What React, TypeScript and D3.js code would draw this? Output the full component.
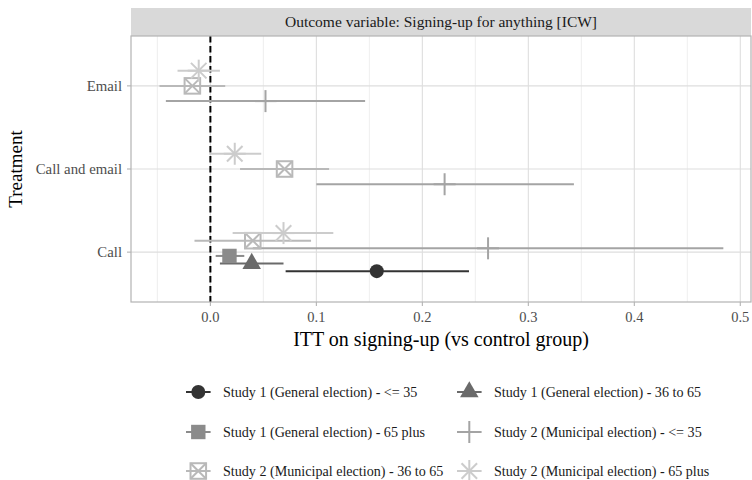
import React from "react";
import * as d3 from "d3";

const categories = ["Call", "Call and email", "Email"];
const groups = [
  "Study 1 (General election) - <= 35",
  "Study 1 (General election) - 36 to 65",
  "Study 1 (General election) - 65 plus",
  "Study 2 (Municipal election) - <= 35",
  "Study 2 (Municipal election) - 36 to 65",
  "Study 2 (Municipal election) - 65 plus",
];
const groupColors = ["#333333", "#6A6A6A", "#8B8B8B", "#A4A4A4", "#B9B9B9", "#CCCCCC"];
const groupShapes = ["circle", "triangle", "square", "plus", "boxx", "asterisk"];

// estimates / lower / upper per treatment, in group order (null = not estimated)
const estCall = [0.157, 0.039, 0.018, 0.262, 0.040, 0.069];
const loCall = [0.071, 0.009, 0.005, 0.040, -0.015, 0.021];
const hiCall = [0.244, 0.069, 0.032, 0.484, 0.095, 0.116];

const estCallEmail = [null, null, null, 0.221, 0.070, 0.023];
const loCallEmail = [null, null, null, 0.100, 0.028, -0.001];
const hiCallEmail = [null, null, null, 0.343, 0.112, 0.048];

const estEmail = [null, null, null, 0.052, -0.017, -0.011];
const loEmail = [null, null, null, -0.042, -0.048, -0.031];
const hiEmail = [null, null, null, 0.146, 0.014, 0.009];

const xTicks = [0.0, 0.1, 0.2, 0.3, 0.4, 0.5];
const xMinor = [-0.05, 0.05, 0.15, 0.25, 0.35, 0.45];
const xDomain = [-0.0749, 0.5101];

const stripTitle = "Outcome variable: Signing-up for anything [ICW]";
const xTitle = "ITT on signing-up (vs control group)";
const yTitle = "Treatment";

const FONT = "'Liberation Serif', 'Times New Roman', serif";

const W = 752, H = 480;
const P = { left: 131, right: 751, top: 36, bottom: 302, stripTop: 8 };

function Marker({ shape, x, y, color }: { shape: string; x: number; y: number; color: string }) {
  const a = 11; // arm half-length
  const sw = 2;
  switch (shape) {
    case "circle":
      return <circle cx={x} cy={y} r={7} fill={color} />;
    case "triangle": {
      const r = 10.7;
      const pts = [
        [x, y - r],
        [x + (r * Math.sqrt(3)) / 2, y + r / 2],
        [x - (r * Math.sqrt(3)) / 2, y + r / 2],
      ];
      return <polygon points={pts.map((p) => p.join(",")).join(" ")} fill={color} />;
    }
    case "square":
      return <rect x={x - 7.2} y={y - 7.2} width={14.4} height={14.4} fill={color} />;
    case "plus":
      return (
        <g stroke={color} strokeWidth={sw}>
          <line x1={x - a} y1={y} x2={x + a} y2={y} />
          <line x1={x} y1={y - a} x2={x} y2={y + a} />
        </g>
      );
    case "boxx": {
      const h = a / Math.SQRT2;
      return (
        <g stroke={color} strokeWidth={sw} fill="none">
          <rect x={x - h} y={y - h} width={2 * h} height={2 * h} />
          <line x1={x - h} y1={y - h} x2={x + h} y2={y + h} />
          <line x1={x - h} y1={y + h} x2={x + h} y2={y - h} />
        </g>
      );
    }
    case "asterisk": {
      const h = a / Math.SQRT2;
      return (
        <g stroke={color} strokeWidth={sw}>
          <line x1={x - a} y1={y} x2={x + a} y2={y} />
          <line x1={x} y1={y - a} x2={x} y2={y + a} />
          <line x1={x - h} y1={y - h} x2={x + h} y2={y + h} />
          <line x1={x - h} y1={y + h} x2={x + h} y2={y - h} />
        </g>
      );
    }
  }
  return null;
}

export default function App() {
  const x = d3.scaleLinear().domain(xDomain).range([P.left, P.right]);
  const y = d3.scalePoint<string>().domain(categories).range([P.bottom, P.top]).padding(0.6);
  const step = y.step();
  const dodgeWidth = 0.55 * step;

  const table: { cat: string; est: (number | null)[]; lo: (number | null)[]; hi: (number | null)[] }[] = [
    { cat: "Call", est: estCall, lo: loCall, hi: hiCall },
    { cat: "Call and email", est: estCallEmail, lo: loCallEmail, hi: hiCallEmail },
    { cat: "Email", est: estEmail, lo: loEmail, hi: hiEmail },
  ];

  const marks: { g: number; cy: number; est: number; lo: number; hi: number }[] = [];
  table.forEach((t) => {
    const present = t.est.map((v, i) => (v === null ? -1 : i)).filter((i) => i >= 0);
    const n = present.length;
    const slot = dodgeWidth / n;
    present.forEach((g, k) => {
      marks.push({
        g,
        cy: (y(t.cat) as number) + ((n - 1) / 2 - k) * slot,
        est: t.est[g] as number,
        lo: t.lo[g] as number,
        hi: t.hi[g] as number,
      });
    });
  });

  const legendCols = [198.3, 469.3];
  const legendRows = [392, 432, 471];

  return (
    <svg width={W} height={H} style={{ position: "absolute", left: 0, top: 0, background: "#fff" }} fontFamily={FONT}>
      <rect x={0} y={0} width={W} height={H} fill="#fff" />
      {/* strip */}
      <rect x={P.left} y={P.stripTop} width={P.right - P.left} height={P.top - P.stripTop} fill="#D9D9D9" />
      <text x={(P.left + P.right) / 2} y={(P.stripTop + P.top) / 2} dy="0.35em" textAnchor="middle" fontSize={15.5} fill="#1A1A1A">
        {stripTitle}
      </text>
      {/* grid */}
      {xMinor.map((v) => (
        <line key={"mn" + v} x1={x(v)} x2={x(v)} y1={P.top} y2={P.bottom} stroke="#E3E3E3" strokeWidth={0.6} />
      ))}
      {xTicks.map((v) => (
        <line key={"mj" + v} x1={x(v)} x2={x(v)} y1={P.top} y2={P.bottom} stroke="#DEDEDE" strokeWidth={1.1} />
      ))}
      {categories.map((c) => (
        <line key={"hg" + c} x1={P.left} x2={P.right} y1={y(c)} y2={y(c)} stroke="#DEDEDE" strokeWidth={1.1} />
      ))}
      {/* zero line */}
      <line x1={x(0)} x2={x(0)} y1={P.top} y2={P.bottom} stroke="#000" strokeWidth={2} strokeDasharray="6.5 3.5" />
      {/* pointranges */}
      {marks.map((m, i) => (
        <g key={"m" + i}>
          <line x1={x(m.lo)} x2={x(m.hi)} y1={m.cy} y2={m.cy} stroke={groupColors[m.g]} strokeWidth={2} />
          <Marker shape={groupShapes[m.g]} x={x(m.est)} y={m.cy} color={groupColors[m.g]} />
        </g>
      ))}
      {/* panel border */}
      <rect x={P.left} y={P.top} width={P.right - P.left} height={P.bottom - P.top} fill="none" stroke="#B3B3B3" strokeWidth={1.2} />
      {/* axes ticks and labels */}
      {xTicks.map((v) => (
        <g key={"xt" + v}>
          <line x1={x(v)} x2={x(v)} y1={P.bottom} y2={P.bottom + 4} stroke="#B3B3B3" strokeWidth={1.1} />
          <text x={x(v)} y={P.bottom + 15} dy="0.35em" textAnchor="middle" fontSize={14.5} fill="#4D4D4D">
            {d3.format(".1f")(v)}
          </text>
        </g>
      ))}
      {categories.map((c) => (
        <g key={"yt" + c}>
          <line x1={P.left - 4} x2={P.left} y1={y(c)} y2={y(c)} stroke="#B3B3B3" strokeWidth={1.1} />
          <text x={P.left - 9} y={y(c)} dy="0.35em" textAnchor="end" fontSize={14.8} fill="#4D4D4D">
            {c}
          </text>
        </g>
      ))}
      <text x={(P.left + P.right) / 2} y={339} dy="0.35em" textAnchor="middle" fontSize={20} fill="#000">
        {xTitle}
      </text>
      <text transform={`translate(15.5, ${(P.top + P.bottom) / 2}) rotate(-90)`} dy="0.35em" textAnchor="middle" fontSize={19} fill="#000">
        {yTitle}
      </text>
      {/* legend */}
      {groups.map((g, i) => {
        const col = i % 2;
        const row = Math.floor(i / 2);
        const cx = legendCols[col];
        const cy = legendRows[row];
        return (
          <g key={"lg" + i}>
            <line x1={cx - 12.3} x2={cx + 12.3} y1={cy} y2={cy} stroke={groupColors[i]} strokeWidth={2} />
            <Marker shape={groupShapes[i]} x={cx} y={cy} color={groupColors[i]} />
            <text x={cx + 24.7} y={cy} dy="0.35em" fontSize={14.1} fill="#1A1A1A">
              {g}
            </text>
          </g>
        );
      })}
    </svg>
  );
}
